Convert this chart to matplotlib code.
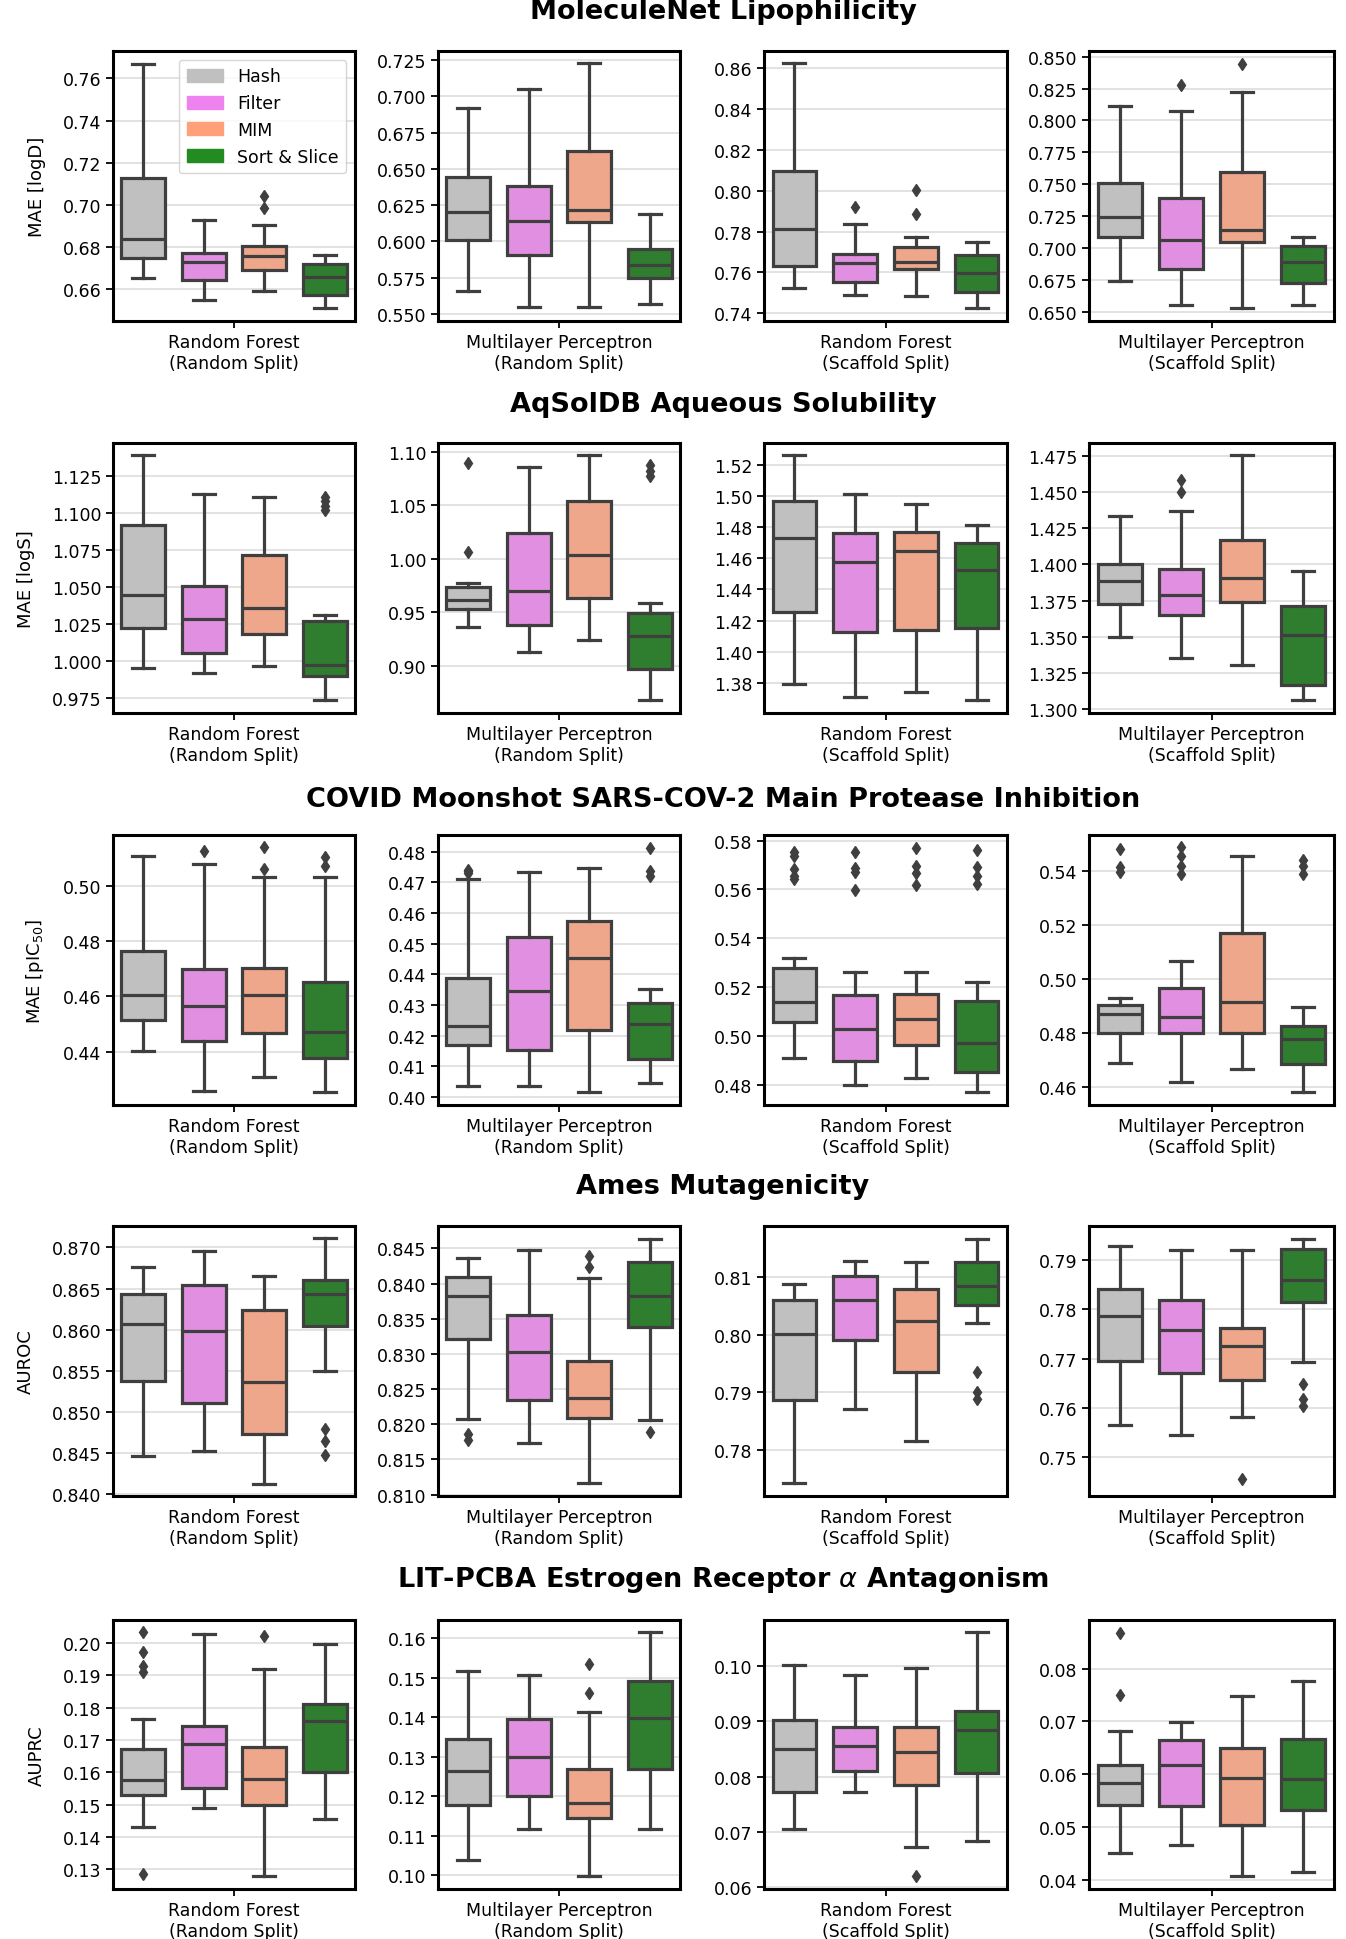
import matplotlib
matplotlib.use("Agg")
import matplotlib.pyplot as plt
import matplotlib.patches as mpatches
from matplotlib.ticker import MultipleLocator
import seaborn as sns

methods = ["Hash", "Filter", "MIM", "Sort & Slice"]
base_colors = ["silver", "violet", "lightsalmon", "forestgreen"]
col_labels = ["Random Forest\n(Random Split)", "Multilayer Perceptron\n(Random Split)",
              "Random Forest\n(Scaffold Split)", "Multilayer Perceptron\n(Scaffold Split)"]

# box stats per method: (whisker low, q1, median, q3, whisker high)
# --- MoleculeNet Lipophilicity
lipo_rf_rand = [(0.6654, 0.675, 0.684, 0.713, 0.767), (0.6548, 0.6646, 0.6729, 0.6772, 0.6929),
                (0.6591, 0.6693, 0.6756, 0.6806, 0.6907), (0.6513, 0.6572, 0.666, 0.6718, 0.6765)]
lipo_rf_rand_out = [[], [], [0.6987, 0.7043], []]
lipo_mlp_rand = [(0.5658, 0.6009, 0.6204, 0.6442, 0.6922), (0.5545, 0.5908, 0.614, 0.6379, 0.7055),
                 (0.555, 0.6135, 0.6213, 0.6627, 0.723), (0.5568, 0.575, 0.584, 0.5945, 0.619)]
lipo_mlp_rand_out = [[], [], [], []]
lipo_rf_scaf = [(0.7522, 0.7633, 0.7815, 0.8095, 0.8625), (0.749, 0.7554, 0.7648, 0.7688, 0.7839),
                (0.7483, 0.7616, 0.7652, 0.7725, 0.7772), (0.7426, 0.7502, 0.7597, 0.7685, 0.7749)]
lipo_rf_scaf_out = [[], [0.7923], [0.7887, 0.8005], []]
lipo_mlp_scaf = [(0.6742, 0.7089, 0.7242, 0.7508, 0.8112), (0.6555, 0.6834, 0.7062, 0.7394, 0.8073),
                 (0.6531, 0.705, 0.7146, 0.7598, 0.8224), (0.6555, 0.673, 0.6893, 0.7016, 0.7089)]
lipo_mlp_scaf_out = [[], [0.8279], [0.8445], []]
lipo_ylim = [(0.645, 0.773), (0.545, 0.7314), (0.7362, 0.8685), (0.643, 0.8544)]
lipo_step = [0.02, 0.025, 0.02, 0.025]

# --- AqSolDB Aqueous Solubility
aqs_rf_rand = [(0.9955, 1.0225, 1.0448, 1.0921, 1.1394), (0.9917, 1.0056, 1.0284, 1.0507, 1.1126),
               (0.9964, 1.0185, 1.0359, 1.0718, 1.1108), (0.974, 0.990, 0.9975, 1.0268, 1.0315)]
aqs_rf_rand_out = [[], [], [], [1.102, 1.105, 1.108, 1.111]]
aqs_mlp_rand = [(0.9366, 0.9528, 0.9616, 0.9734, 0.9772), (0.9125, 0.9378, 0.970, 1.0244, 1.0859),
                (0.9241, 0.9634, 1.0034, 1.0541, 1.0975), (0.8684, 0.8969, 0.9275, 0.949, 0.9584)]
aqs_mlp_rand_out = [[1.0063, 1.09], [], [], [1.0772, 1.0822, 1.0875]]
aqs_rf_scaf = [(1.3791, 1.4254, 1.4731, 1.497, 1.5269), (1.3705, 1.4129, 1.4578, 1.4763, 1.5017),
               (1.374, 1.4138, 1.4651, 1.4768, 1.4948), (1.3687, 1.415, 1.4525, 1.4699, 1.4817)]
aqs_rf_scaf_out = [[], [], [], []]
aqs_mlp_scaf = [(1.3498, 1.3725, 1.3885, 1.4005, 1.4331), (1.3356, 1.3651, 1.3787, 1.3968, 1.437),
                (1.3303, 1.3739, 1.3907, 1.4172, 1.4757), (1.3066, 1.3168, 1.3514, 1.3715, 1.3954)]
aqs_mlp_scaf_out = [[], [1.450, 1.4586], [], []]
aqs_ylim = [(0.965, 1.1473), (0.8559, 1.1084), (1.3604, 1.5344), (1.2975, 1.4838)]
aqs_step = [0.025, 0.05, 0.02, 0.025]

# --- COVID Moonshot
cov_rf_rand = [(0.4401, 0.4514, 0.4606, 0.4764, 0.5111), (0.4256, 0.4439, 0.4567, 0.4700, 0.508),
               (0.4307, 0.4466, 0.4606, 0.4702, 0.5035), (0.4255, 0.4375, 0.4471, 0.4652, 0.5035)]
cov_rf_rand_out = [[], [0.5129], [0.5063, 0.5141], [0.5073, 0.5105]]
cov_mlp_rand = [(0.4037, 0.4171, 0.4233, 0.4388, 0.4711), (0.4035, 0.4153, 0.4345, 0.4521, 0.4733),
                (0.4017, 0.422, 0.4454, 0.4573, 0.4746), (0.4046, 0.4124, 0.4238, 0.4305, 0.4352)]
cov_mlp_rand_out = [[0.4730, 0.4736, 0.4741], [], [], [0.472, 0.4738, 0.4812]]
cov_rf_scaf = [(0.491, 0.5056, 0.5139, 0.5279, 0.532), (0.4801, 0.49, 0.5031, 0.5167, 0.5264),
               (0.483, 0.4965, 0.5068, 0.5174, 0.5264), (0.4773, 0.4852, 0.497, 0.5142, 0.5222)]
cov_rf_scaf_out = [[0.5643, 0.5657, 0.5684, 0.5736, 0.5755], [0.5599, 0.5673, 0.5687, 0.5755],
                   [0.562, 0.5666, 0.5698, 0.577], [0.5622, 0.5657, 0.569, 0.5762]]
cov_mlp_scaf = [(0.4691, 0.48, 0.4873, 0.4907, 0.4931), (0.4621, 0.4801, 0.486, 0.4967, 0.5067),
                (0.4668, 0.48, 0.4915, 0.5173, 0.5458), (0.4584, 0.4686, 0.478, 0.4828, 0.4898)]
cov_mlp_scaf_out = [[0.5399, 0.5415, 0.5485], [0.539, 0.5421, 0.5456, 0.5489], [], [0.539, 0.5419, 0.5442]]
cov_ylim = [(0.4206, 0.5186), (0.3974, 0.4854), (0.4718, 0.5823), (0.4535, 0.5535)]
cov_step = [0.02, 0.01, 0.02, 0.02]

# --- Ames Mutagenicity
ames_rf_rand = [(0.8446, 0.8538, 0.8607, 0.8643, 0.8676), (0.8453, 0.8511, 0.8598, 0.8654, 0.8696),
                (0.8413, 0.8473, 0.8537, 0.8624, 0.8665), (0.855, 0.8604, 0.8644, 0.8661, 0.8711)]
ames_rf_rand_out = [[], [], [], [0.8448, 0.8465, 0.8479]]
ames_mlp_rand = [(0.8208, 0.8321, 0.8382, 0.8409, 0.8437), (0.8174, 0.8235, 0.8303, 0.8356, 0.8448),
                 (0.8116, 0.8209, 0.8238, 0.829, 0.8408), (0.8206, 0.8338, 0.8383, 0.8431, 0.8464)]
ames_mlp_rand_out = [[0.8177, 0.8186], [], [0.8423, 0.8440], [0.8189]]
ames_rf_scaf = [(0.7742, 0.7887, 0.8002, 0.806, 0.8088), (0.7871, 0.7991, 0.8061, 0.8102, 0.8129),
                (0.7816, 0.7935, 0.8024, 0.8079, 0.8126), (0.8021, 0.8052, 0.8085, 0.8126, 0.8167)]
ames_rf_scaf_out = [[], [], [], [0.7888, 0.7901, 0.7935]]
ames_mlp_scaf = [(0.7565, 0.7695, 0.7787, 0.7842, 0.7929), (0.7545, 0.7671, 0.7758, 0.782, 0.7921),
                 (0.758, 0.7656, 0.7726, 0.7763, 0.7921), (0.7693, 0.7816, 0.786, 0.7924, 0.7944)]
ames_mlp_scaf_out = [[], [], [0.7455], [0.7604, 0.7617, 0.7649]]
ames_ylim = [(0.8398, 0.8726), (0.8098, 0.8482), (0.772, 0.8189), (0.742, 0.797)]
ames_step = [0.005, 0.005, 0.01, 0.01]

# --- LIT-PCBA ESR antagonism
lit_rf_rand = [(0.1430, 0.1529, 0.1575, 0.1673, 0.1764), (0.1488, 0.155, 0.1686, 0.1742, 0.2028),
               (0.1278, 0.1498, 0.158, 0.1677, 0.1918), (0.1455, 0.1601, 0.1758, 0.1812, 0.1997)]
lit_rf_rand_out = [[0.1286, 0.191, 0.1928, 0.1973, 0.2035], [], [0.2023], []]
lit_mlp_rand = [(0.1038, 0.1178, 0.1263, 0.1346, 0.1516), (0.1118, 0.1201, 0.13, 0.1396, 0.1508),
                (0.0997, 0.1144, 0.1182, 0.1269, 0.1412), (0.1117, 0.1269, 0.1397, 0.1491, 0.1615)]
lit_mlp_rand_out = [[], [], [0.1461, 0.1535], []]
lit_rf_scaf = [(0.0705, 0.0772, 0.085, 0.0903, 0.1001), (0.0773, 0.081, 0.0856, 0.0889, 0.0984),
               (0.0672, 0.0785, 0.0844, 0.0889, 0.0996), (0.0684, 0.0807, 0.0885, 0.0919, 0.1061)]
lit_rf_scaf_out = [[], [], [0.062], []]
lit_mlp_scaf = [(0.0451, 0.0541, 0.0583, 0.0617, 0.0682), (0.0466, 0.054, 0.0618, 0.0665, 0.0699),
                (0.0406, 0.0504, 0.0592, 0.0649, 0.0747), (0.0415, 0.0531, 0.059, 0.0666, 0.0776)]
lit_mlp_scaf_out = [[0.0749, 0.0868], [], [], []]
lit_ylim = [(0.1239, 0.2071), (0.0965, 0.1646), (0.0597, 0.1083), (0.0382, 0.0892)]
lit_step = [0.01, 0.01, 0.01, 0.01]

rows = [
    ("MoleculeNet Lipophilicity", "MAE [logD]",
     [lipo_rf_rand, lipo_mlp_rand, lipo_rf_scaf, lipo_mlp_scaf],
     [lipo_rf_rand_out, lipo_mlp_rand_out, lipo_rf_scaf_out, lipo_mlp_scaf_out], lipo_ylim, lipo_step),
    ("AqSolDB Aqueous Solubility", "MAE [logS]",
     [aqs_rf_rand, aqs_mlp_rand, aqs_rf_scaf, aqs_mlp_scaf],
     [aqs_rf_rand_out, aqs_mlp_rand_out, aqs_rf_scaf_out, aqs_mlp_scaf_out], aqs_ylim, aqs_step),
    ("COVID Moonshot SARS-COV-2 Main Protease Inhibition", "MAE [pIC$_{50}$]",
     [cov_rf_rand, cov_mlp_rand, cov_rf_scaf, cov_mlp_scaf],
     [cov_rf_rand_out, cov_mlp_rand_out, cov_rf_scaf_out, cov_mlp_scaf_out], cov_ylim, cov_step),
    ("Ames Mutagenicity", "AUROC",
     [ames_rf_rand, ames_mlp_rand, ames_rf_scaf, ames_mlp_scaf],
     [ames_rf_rand_out, ames_mlp_rand_out, ames_rf_scaf_out, ames_mlp_scaf_out], ames_ylim, ames_step),
    ("LIT-PCBA Estrogen Receptor $\\alpha$ Antagonism", "AUPRC",
     [lit_rf_rand, lit_mlp_rand, lit_rf_scaf, lit_mlp_scaf],
     [lit_rf_rand_out, lit_mlp_rand_out, lit_rf_scaf_out, lit_mlp_scaf_out], lit_ylim, lit_step),
]

W, H = 1346, 1940
fig = plt.figure(figsize=(W / 100, H / 100), dpi=100)

col_x = [(113, 355), (438, 680), (764, 1007), (1089, 1334)]
row_y = [(52, 322), (444, 714), (836, 1106), (1227, 1497), (1621, 1890)]
title_y = [12, 405, 800, 1187, 1580]

box_colors = [sns.desaturate(c, 0.75) for c in base_colors]
line_col = "#3f3f3f"
offsets = [-0.375, -0.125, 0.125, 0.375]
fs = 12.5

for r, (title, ylab, panels, outs, ylims, steps) in enumerate(rows):
    y0, y1 = row_y[r]
    fig.text(723 / W, 1 - title_y[r] / H, title, ha="center", va="center",
             fontsize=19.5, fontweight="bold")
    for c in range(4):
        x0, x1 = col_x[c]
        ax = fig.add_axes([x0 / W, 1 - y1 / H, (x1 - x0) / W, (y1 - y0) / H])
        stats = []
        for (lo, q1, med, q3, hi), fl in zip(panels[c], outs[c]):
            stats.append(dict(whislo=lo, q1=q1, med=med, q3=q3, whishi=hi, fliers=fl))
        bp = ax.bxp(stats, positions=offsets, widths=0.18, patch_artist=True,
                    boxprops=dict(edgecolor=line_col, linewidth=2.3),
                    whiskerprops=dict(color=line_col, linewidth=2.3),
                    capprops=dict(color=line_col, linewidth=2.3),
                    medianprops=dict(color=line_col, linewidth=2.3),
                    flierprops=dict(marker="d", markerfacecolor=line_col,
                                    markeredgecolor=line_col, markersize=6))
        for patch, col in zip(bp["boxes"], box_colors):
            patch.set_facecolor(col)
        ax.set_xlim(-0.5, 0.5)
        ax.set_ylim(*ylims[c])
        ax.yaxis.set_major_locator(MultipleLocator(steps[c]))
        ax.set_xticks([0])
        ax.set_xticklabels([col_labels[c]], fontsize=fs)
        ax.tick_params(axis="y", labelsize=fs, length=5, width=1.3)
        ax.tick_params(axis="x", length=5, width=1.3)
        ax.yaxis.grid(True, color="#dddddd", linewidth=1.2)
        ax.set_axisbelow(True)
        for sp in ax.spines.values():
            sp.set_linewidth(2.2)
            sp.set_color("black")
        if c == 0:
            ax.set_ylabel(ylab, fontsize=13, labelpad=12)
        if r == 0 and c == 0:
            handles = [mpatches.Patch(color=col, label=m) for m, col in zip(methods, base_colors)]
            ax.legend(handles=handles, loc="upper right", fontsize=fs,
                      handlelength=2.1, handleheight=0.8, labelspacing=0.5,
                      borderpad=0.45, framealpha=0.8)

fig.savefig("out.png", dpi=100)
